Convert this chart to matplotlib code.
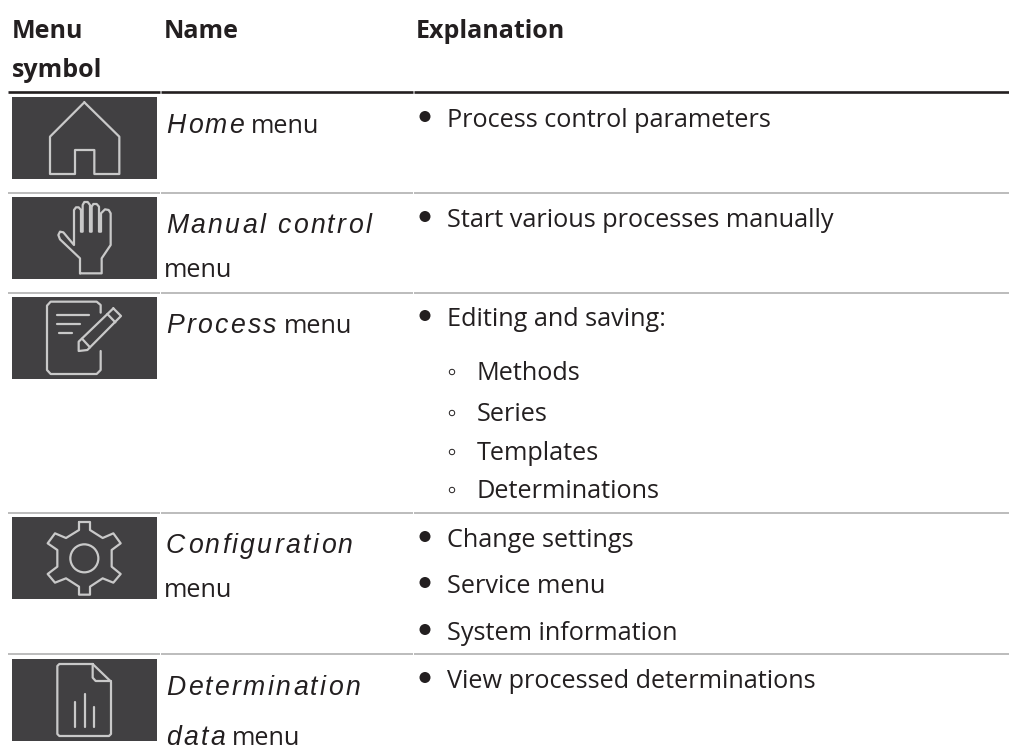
#!/usr/bin/env python3
# plot.py
# Menu symbol table, drawn in pixel coordinates of the page
import matplotlib
matplotlib.use('Agg')
import matplotlib.pyplot as plt
from matplotlib.patches import Rectangle, Circle
from matplotlib.text import Text

W, H = 1009, 756
DARK = '#414042'
STROKE = '#c9c9c9'
TEXT = '#231f20'
BODY = 'Open Sans'
ITALIC = 'Liberation Sans'
TRACKING = 2.4  # extra px between the italic letters

headers = [('Menu', 12, 38), ('symbol', 12, 77), ('Name', 164, 38), ('Explanation', 416, 38)]
row_lines = [192.8, 292.5, 512.7, 654.3]
box_tops = [97, 197, 297, 517, 659]

# (italic text, x, baseline)
italic_names = [('Home', 166, 133), ('Manual control', 166, 233), ('Process', 166, 333),
                ('Configuration', 166, 553), ('Determination', 166, 695), ('data', 166, 745)]
# (plain text, x, baseline)
plain_names = [('menu', 251, 133), ('menu', 164, 277), ('menu', 284, 333),
               ('menu', 164, 597), ('menu', 232, 745)]
# (bullet text, baseline)
bullets = [('Process control parameters', 127), ('Start various processes manually', 227),
           ('Editing and saving:', 326), ('Change settings', 547), ('Service menu', 593),
           ('System information', 640), ('View processed determinations', 688)]
sub_bullets = [('Methods', 380), ('Series', 421), ('Templates', 460), ('Determinations', 498)]

home = [(253, 307), (358, 410), (358, 522), (283, 522), (283, 450), (225, 450), (225, 522),
        (150, 522), (150, 410), (253, 307)]
hand = [(240, 820), (305, 820), (305, 775), (332, 735), (332, 640), (326, 630), (315, 628), (303, 640),
        (303, 695), (297, 695), (297, 620), (290, 612), (280, 612), (275, 620), (275, 695), (270, 695),
        (270, 615), (263, 606), (253, 606), (248, 615), (248, 695), (243, 695), (243, 630), (236, 622),
        (228, 622), (222, 630), (222, 735), (190, 697), (180, 695), (175, 705), (180, 718), (240, 775),
        (240, 820)]
doc = [(302, 68), (302, 45), (290, 35), (152, 35), (141, 47), (141, 240), (152, 252), (290, 252),
       (302, 240), (302, 183)]
doc_rules = [[(172, 74), (268, 74)], [(172, 103), (240, 103)], [(178, 130), (216, 130)]]
pencil = [(340, 55), (363, 78), (262, 180), (236, 183), (236, 155), (340, 55)]
pencil_bands = [[(322, 72), (346, 97)], [(246, 146), (270, 172)]]
gear = [(237, 36), (270, 36), (270, 60), (308, 84), (340, 70), (362, 100), (335, 120), (335, 170),
        (362, 192), (340, 218), (308, 205), (270, 230), (270, 254), (237, 254), (237, 230), (198, 205),
        (165, 218), (143, 192), (172, 170), (172, 120), (143, 100), (165, 70), (198, 84), (237, 60),
        (237, 36)]
page = [(278, 462), (178, 462), (172, 468), (172, 672), (178, 678), (327, 678), (333, 672), (333, 515),
        (278, 462)]
fold = [(278, 462), (278, 503), (287, 513), (333, 513)]
page_bars = [[(226, 575), (226, 652)], [(255, 552), (255, 652)], [(283, 590), (283, 652)]]


class SpacedText(Text):
    # one text object, drawn letter by letter with some tracking
    def draw(self, renderer):
        if renderer is None or not self.get_visible():
            return
        s = self.get_text()
        prop = self.get_fontproperties()
        x, y = self.get_position()
        for i, c in enumerate(s):
            if c == ' ':
                continue
            w_all = renderer.get_text_width_height_descent(s[:i + 1], prop, False)[0]
            w_c = renderer.get_text_width_height_descent(c, prop, False)[0]
            t = Text(x + w_all - w_c + i * TRACKING, y, c, fontproperties=prop,
                     color=self.get_color(), va='baseline')
            t.set_figure(self.get_figure())
            t.set_transform(self.get_transform())
            t.draw(renderer)


fig = plt.figure(figsize=(W / 100, H / 100), dpi=100)
ax = fig.add_axes([0, 0, 1, 1])
ax.set_xlim(0, W)
ax.set_ylim(H, 0)
ax.axis('off')


def stroke(pts, y0=0):
    xs = [p[0] / 3 for p in pts]
    ys = [y0 + p[1] / 3 for p in pts]
    ax.plot(xs, ys, color=STROKE, lw=1.6, solid_joinstyle='round', solid_capstyle='round', zorder=3)


def rule(y, color, lw):
    for x0, x1 in [(8, 159.6), (160.6, 413), (414, W)]:
        ax.plot([x0, x1], [y, y], color=color, lw=lw, solid_capstyle='butt')


rule(92.3, '#231f20', 1.9)
for y in row_lines:
    rule(y, '#a9a9a9', 1.1)

for top in box_tops:
    ax.add_patch(Rectangle((12, top), 145, 82, fc=DARK, ec='none', zorder=2))

stroke(home)
stroke(hand)
stroke(doc, 290)
for r in doc_rules + pencil_bands:
    stroke(r, 290)
stroke(pencil, 290)
stroke(gear, 510)
ax.add_patch(Circle((253 / 3, 510 + 145 / 3), 14, fc='none', ec=STROKE, lw=1.6, zorder=3))
stroke(page, 510)
stroke(fold, 510)
for r in page_bars:
    stroke(r, 510)

for s, x, y in headers:
    ax.text(x, y, s, family=BODY, weight='bold', fontsize=18, color=TEXT, va='baseline')
for s, x, y in italic_names:
    t = SpacedText(x, y, s, family=ITALIC, style='italic', fontsize=19.2, color=TEXT, va='baseline')
    ax.add_artist(t)
for s, x, y in plain_names:
    ax.text(x, y, s, family=BODY, fontsize=18.2, color=TEXT, va='baseline')
for s, y in bullets:
    ax.text(447, y, s, family=BODY, fontsize=18.2, color=TEXT, va='baseline')
    ax.add_patch(Circle((425, y - 10.5), 5.5, fc=TEXT, ec='none'))
for s, y in sub_bullets:
    ax.text(476.5, y, s, family=BODY, fontsize=18.2, color=TEXT, va='baseline')
    ax.add_patch(Circle((452, y - 8), 2.7, fc='none', ec=TEXT, lw=0.7))

fig.savefig('out.png', dpi=100)
